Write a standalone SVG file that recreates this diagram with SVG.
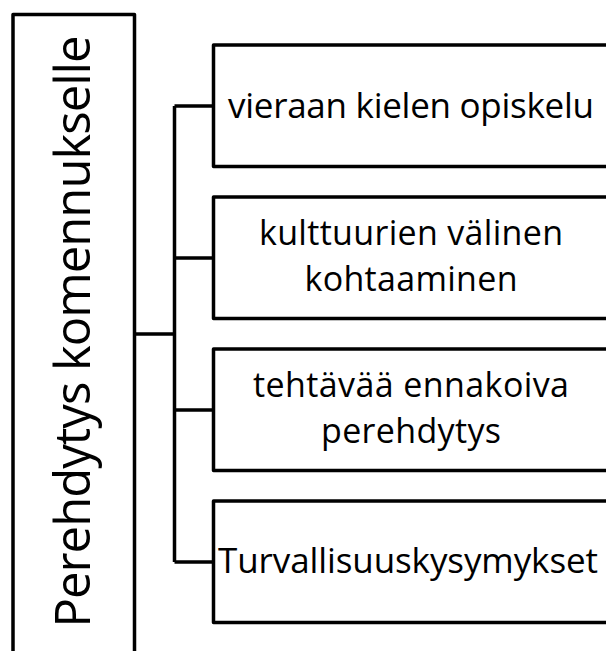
<svg xmlns="http://www.w3.org/2000/svg" width="606" height="651" viewBox="0 0 606 651">
  <style>
    .box { fill: #ffffff; stroke: #000000; stroke-width: 3.5; stroke-linejoin: round; }
    .conn { fill: none; stroke: #000000; stroke-width: 3.5; stroke-linejoin: round; }
    .lbl { font-family: "Open Sans", Lato, "Liberation Sans", sans-serif; font-size: 35px; fill: #000000; text-anchor: middle; }
    .two { font-size: 34px; }
    .main { font-size: 49px; }
  </style>
  <rect x="0" y="0" width="606" height="651" fill="#ffffff"/>
  <g id="connectors">
    <path class="conn" d="M134.5,334 H174.5 M174.5,106 V562 M174.5,106 H213.5 M174.5,258 H213.5 M174.5,410 H213.5 M174.5,562 H213.5"/>
  </g>
  <g id="root">
    <rect class="box" x="13" y="14.5" width="121.5" height="660"/>
    <text class="lbl main" transform="translate(90,331.5) rotate(-90)" textLength="592">Perehdytys komennukselle</text>
  </g>
  <g id="n1">
    <rect class="box" x="213.5" y="45" width="400" height="121.5"/>
    <text class="lbl" x="411" y="118" textLength="366">vieraan kielen opiskelu</text>
  </g>
  <g id="n2">
    <rect class="box" x="213.5" y="197" width="400" height="121.5"/>
    <text class="lbl two" x="411" y="244.5" textLength="304">kulttuurien välinen</text>
    <text class="lbl two" x="411" y="291" textLength="213">kohtaaminen</text>
  </g>
  <g id="n3">
    <rect class="box" x="213.5" y="349" width="400" height="121.5"/>
    <text class="lbl two" x="411" y="396.5" textLength="316">tehtävää ennakoiva</text>
    <text class="lbl two" x="411" y="443" textLength="180">perehdytys</text>
  </g>
  <g id="n4">
    <rect class="box" x="213.5" y="501" width="400" height="121.5"/>
    <text class="lbl" x="408" y="573" textLength="380">Turvallisuuskysymykset</text>
  </g>
</svg>
